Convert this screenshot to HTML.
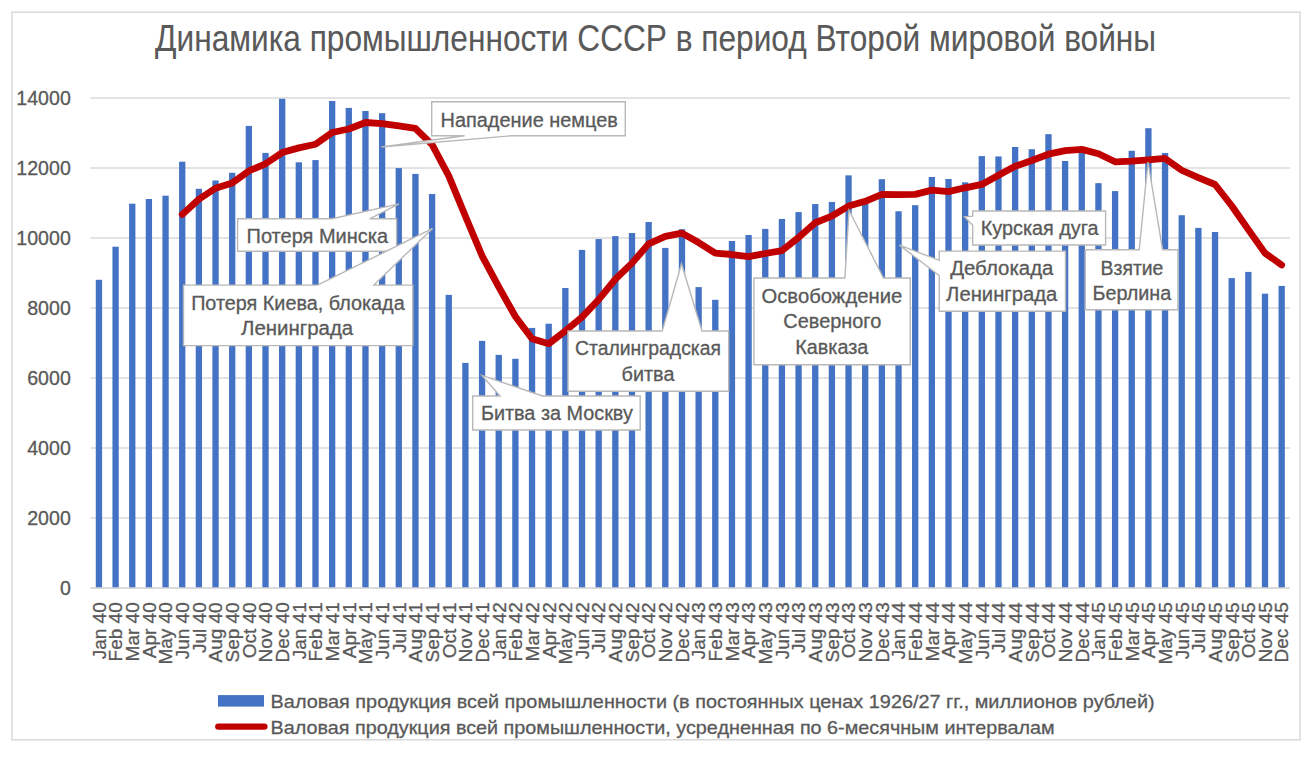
<!DOCTYPE html><html><head><meta charset="utf-8"><style>html,body{margin:0;padding:0;background:#fff;width:1312px;height:761px;overflow:hidden}svg{display:block}text{font-family:"Liberation Sans",sans-serif;fill:#595959;stroke:#595959;stroke-width:0.3px}</style></head><body>
<svg width="1312" height="761" viewBox="0 0 1312 761">
<rect x="0" y="0" width="1312" height="761" fill="#fff"/>
<rect x="12" y="12.2" width="1288" height="727.6" fill="#fff" stroke="#d9d9d9" stroke-width="1.5"/>
<text x="655.6" y="50.8" font-size="36" text-anchor="middle" textLength="1001" lengthAdjust="spacingAndGlyphs" style="stroke-width:0.1px">Динамика промышленности СССР в период Второй мировой войны</text>
<line x1="90.6" y1="588.00" x2="1290.0" y2="588.00" stroke="#d9d9d9" stroke-width="1.3"/>
<text x="70.8" y="594.60" font-size="19.6" text-anchor="end">0</text>
<line x1="90.6" y1="518.00" x2="1290.0" y2="518.00" stroke="#d9d9d9" stroke-width="1.3"/>
<text x="70.8" y="524.60" font-size="19.6" text-anchor="end">2000</text>
<line x1="90.6" y1="448.00" x2="1290.0" y2="448.00" stroke="#d9d9d9" stroke-width="1.3"/>
<text x="70.8" y="454.60" font-size="19.6" text-anchor="end">4000</text>
<line x1="90.6" y1="378.00" x2="1290.0" y2="378.00" stroke="#d9d9d9" stroke-width="1.3"/>
<text x="70.8" y="384.60" font-size="19.6" text-anchor="end">6000</text>
<line x1="90.6" y1="308.00" x2="1290.0" y2="308.00" stroke="#d9d9d9" stroke-width="1.3"/>
<text x="70.8" y="314.60" font-size="19.6" text-anchor="end">8000</text>
<line x1="90.6" y1="238.00" x2="1290.0" y2="238.00" stroke="#d9d9d9" stroke-width="1.3"/>
<text x="70.8" y="244.60" font-size="19.6" text-anchor="end">10000</text>
<line x1="90.6" y1="168.00" x2="1290.0" y2="168.00" stroke="#d9d9d9" stroke-width="1.3"/>
<text x="70.8" y="174.60" font-size="19.6" text-anchor="end">12000</text>
<line x1="90.6" y1="98.00" x2="1290.0" y2="98.00" stroke="#d9d9d9" stroke-width="1.3"/>
<text x="70.8" y="104.60" font-size="19.6" text-anchor="end">14000</text>
<rect x="95.78" y="279.79" width="6.30" height="308.21" fill="#4472c4"/>
<rect x="112.44" y="246.71" width="6.30" height="341.29" fill="#4472c4"/>
<rect x="129.10" y="203.70" width="6.30" height="384.30" fill="#4472c4"/>
<rect x="145.75" y="199.01" width="6.30" height="388.99" fill="#4472c4"/>
<rect x="162.41" y="195.68" width="6.30" height="392.32" fill="#4472c4"/>
<rect x="179.07" y="161.70" width="6.30" height="426.30" fill="#4472c4"/>
<rect x="195.73" y="188.79" width="6.30" height="399.21" fill="#4472c4"/>
<rect x="212.39" y="180.49" width="6.30" height="407.51" fill="#4472c4"/>
<rect x="229.05" y="172.79" width="6.30" height="415.21" fill="#4472c4"/>
<rect x="245.70" y="125.89" width="6.30" height="462.11" fill="#4472c4"/>
<rect x="262.36" y="152.91" width="6.30" height="435.09" fill="#4472c4"/>
<rect x="279.02" y="98.80" width="6.30" height="489.20" fill="#4472c4"/>
<rect x="295.68" y="162.29" width="6.30" height="425.71" fill="#4472c4"/>
<rect x="312.34" y="160.09" width="6.30" height="427.91" fill="#4472c4"/>
<rect x="329.00" y="101.01" width="6.30" height="486.99" fill="#4472c4"/>
<rect x="345.65" y="107.90" width="6.30" height="480.10" fill="#4472c4"/>
<rect x="362.31" y="110.98" width="6.30" height="477.02" fill="#4472c4"/>
<rect x="378.97" y="113.19" width="6.30" height="474.81" fill="#4472c4"/>
<rect x="395.63" y="168.10" width="6.30" height="419.90" fill="#4472c4"/>
<rect x="412.29" y="173.91" width="6.30" height="414.09" fill="#4472c4"/>
<rect x="428.95" y="194.00" width="6.30" height="394.00" fill="#4472c4"/>
<rect x="445.60" y="294.88" width="6.30" height="293.12" fill="#4472c4"/>
<rect x="462.26" y="362.91" width="6.30" height="225.09" fill="#4472c4"/>
<rect x="478.92" y="340.90" width="6.30" height="247.10" fill="#4472c4"/>
<rect x="495.58" y="354.90" width="6.30" height="233.10" fill="#4472c4"/>
<rect x="512.24" y="358.78" width="6.30" height="229.22" fill="#4472c4"/>
<rect x="528.90" y="327.91" width="6.30" height="260.09" fill="#4472c4"/>
<rect x="545.55" y="323.71" width="6.30" height="264.29" fill="#4472c4"/>
<rect x="562.21" y="287.98" width="6.30" height="300.02" fill="#4472c4"/>
<rect x="578.87" y="249.90" width="6.30" height="338.10" fill="#4472c4"/>
<rect x="595.53" y="239.08" width="6.30" height="348.92" fill="#4472c4"/>
<rect x="612.19" y="236.11" width="6.30" height="351.89" fill="#4472c4"/>
<rect x="628.85" y="232.99" width="6.30" height="355.01" fill="#4472c4"/>
<rect x="645.50" y="222.00" width="6.30" height="366.00" fill="#4472c4"/>
<rect x="662.16" y="247.90" width="6.30" height="340.10" fill="#4472c4"/>
<rect x="678.82" y="229.21" width="6.30" height="358.79" fill="#4472c4"/>
<rect x="695.48" y="287.10" width="6.30" height="300.90" fill="#4472c4"/>
<rect x="712.14" y="299.81" width="6.30" height="288.19" fill="#4472c4"/>
<rect x="728.80" y="241.01" width="6.30" height="346.99" fill="#4472c4"/>
<rect x="745.45" y="234.99" width="6.30" height="353.01" fill="#4472c4"/>
<rect x="762.11" y="228.90" width="6.30" height="359.10" fill="#4472c4"/>
<rect x="778.77" y="218.99" width="6.30" height="369.01" fill="#4472c4"/>
<rect x="795.43" y="212.10" width="6.30" height="375.90" fill="#4472c4"/>
<rect x="812.09" y="204.08" width="6.30" height="383.92" fill="#4472c4"/>
<rect x="828.75" y="201.91" width="6.30" height="386.09" fill="#4472c4"/>
<rect x="845.40" y="175.35" width="6.30" height="412.65" fill="#4472c4"/>
<rect x="862.06" y="201.25" width="6.30" height="386.75" fill="#4472c4"/>
<rect x="878.72" y="179.20" width="6.30" height="408.80" fill="#4472c4"/>
<rect x="895.38" y="211.29" width="6.30" height="376.71" fill="#4472c4"/>
<rect x="912.04" y="205.20" width="6.30" height="382.80" fill="#4472c4"/>
<rect x="928.70" y="176.99" width="6.30" height="411.01" fill="#4472c4"/>
<rect x="945.35" y="178.99" width="6.30" height="409.01" fill="#4472c4"/>
<rect x="962.01" y="182.31" width="6.30" height="405.69" fill="#4472c4"/>
<rect x="978.67" y="156.10" width="6.30" height="431.90" fill="#4472c4"/>
<rect x="995.33" y="156.45" width="6.30" height="431.55" fill="#4472c4"/>
<rect x="1011.99" y="147.00" width="6.30" height="441.00" fill="#4472c4"/>
<rect x="1028.65" y="149.20" width="6.30" height="438.80" fill="#4472c4"/>
<rect x="1045.30" y="134.15" width="6.30" height="453.85" fill="#4472c4"/>
<rect x="1061.96" y="161.00" width="6.30" height="427.00" fill="#4472c4"/>
<rect x="1078.62" y="152.25" width="6.30" height="435.75" fill="#4472c4"/>
<rect x="1095.28" y="183.15" width="6.30" height="404.85" fill="#4472c4"/>
<rect x="1111.94" y="191.10" width="6.30" height="396.90" fill="#4472c4"/>
<rect x="1128.60" y="150.81" width="6.30" height="437.19" fill="#4472c4"/>
<rect x="1145.25" y="128.20" width="6.30" height="459.80" fill="#4472c4"/>
<rect x="1161.91" y="152.95" width="6.30" height="435.05" fill="#4472c4"/>
<rect x="1178.57" y="215.21" width="6.30" height="372.79" fill="#4472c4"/>
<rect x="1195.23" y="227.88" width="6.30" height="360.12" fill="#4472c4"/>
<rect x="1211.89" y="232.01" width="6.30" height="355.99" fill="#4472c4"/>
<rect x="1228.55" y="278.11" width="6.30" height="309.89" fill="#4472c4"/>
<rect x="1245.20" y="271.91" width="6.30" height="316.09" fill="#4472c4"/>
<rect x="1261.86" y="293.68" width="6.30" height="294.32" fill="#4472c4"/>
<rect x="1278.52" y="285.91" width="6.30" height="302.09" fill="#4472c4"/>
<line x1="90.6" y1="588" x2="1290.0" y2="588" stroke="#d9d9d9" stroke-width="1.3"/>
<text transform="translate(105.73,602.3) rotate(-90)" font-size="19" text-anchor="end">Jan 40</text>
<text transform="translate(122.39,602.3) rotate(-90)" font-size="19" text-anchor="end">Feb 40</text>
<text transform="translate(139.05,602.3) rotate(-90)" font-size="19" text-anchor="end">Mar 40</text>
<text transform="translate(155.70,602.3) rotate(-90)" font-size="19" text-anchor="end">Apr 40</text>
<text transform="translate(172.36,602.3) rotate(-90)" font-size="19" text-anchor="end">May 40</text>
<text transform="translate(189.02,602.3) rotate(-90)" font-size="19" text-anchor="end">Jun 40</text>
<text transform="translate(205.68,602.3) rotate(-90)" font-size="19" text-anchor="end">Jul 40</text>
<text transform="translate(222.34,602.3) rotate(-90)" font-size="19" text-anchor="end">Aug 40</text>
<text transform="translate(239.00,602.3) rotate(-90)" font-size="19" text-anchor="end">Sep 40</text>
<text transform="translate(255.65,602.3) rotate(-90)" font-size="19" text-anchor="end">Oct 40</text>
<text transform="translate(272.31,602.3) rotate(-90)" font-size="19" text-anchor="end">Nov 40</text>
<text transform="translate(288.97,602.3) rotate(-90)" font-size="19" text-anchor="end">Dec 40</text>
<text transform="translate(305.63,602.3) rotate(-90)" font-size="19" text-anchor="end">Jan 41</text>
<text transform="translate(322.29,602.3) rotate(-90)" font-size="19" text-anchor="end">Feb 41</text>
<text transform="translate(338.95,602.3) rotate(-90)" font-size="19" text-anchor="end">Mar 41</text>
<text transform="translate(355.60,602.3) rotate(-90)" font-size="19" text-anchor="end">Apr 41</text>
<text transform="translate(372.26,602.3) rotate(-90)" font-size="19" text-anchor="end">May 41</text>
<text transform="translate(388.92,602.3) rotate(-90)" font-size="19" text-anchor="end">Jun 41</text>
<text transform="translate(405.58,602.3) rotate(-90)" font-size="19" text-anchor="end">Jul 41</text>
<text transform="translate(422.24,602.3) rotate(-90)" font-size="19" text-anchor="end">Aug 41</text>
<text transform="translate(438.90,602.3) rotate(-90)" font-size="19" text-anchor="end">Sep 41</text>
<text transform="translate(455.55,602.3) rotate(-90)" font-size="19" text-anchor="end">Oct 41</text>
<text transform="translate(472.21,602.3) rotate(-90)" font-size="19" text-anchor="end">Nov 41</text>
<text transform="translate(488.87,602.3) rotate(-90)" font-size="19" text-anchor="end">Dec 41</text>
<text transform="translate(505.53,602.3) rotate(-90)" font-size="19" text-anchor="end">Jan 42</text>
<text transform="translate(522.19,602.3) rotate(-90)" font-size="19" text-anchor="end">Feb 42</text>
<text transform="translate(538.85,602.3) rotate(-90)" font-size="19" text-anchor="end">Mar 42</text>
<text transform="translate(555.50,602.3) rotate(-90)" font-size="19" text-anchor="end">Apr 42</text>
<text transform="translate(572.16,602.3) rotate(-90)" font-size="19" text-anchor="end">May 42</text>
<text transform="translate(588.82,602.3) rotate(-90)" font-size="19" text-anchor="end">Jun 42</text>
<text transform="translate(605.48,602.3) rotate(-90)" font-size="19" text-anchor="end">Jul 42</text>
<text transform="translate(622.14,602.3) rotate(-90)" font-size="19" text-anchor="end">Aug 42</text>
<text transform="translate(638.80,602.3) rotate(-90)" font-size="19" text-anchor="end">Sep 42</text>
<text transform="translate(655.45,602.3) rotate(-90)" font-size="19" text-anchor="end">Oct 42</text>
<text transform="translate(672.11,602.3) rotate(-90)" font-size="19" text-anchor="end">Nov 42</text>
<text transform="translate(688.77,602.3) rotate(-90)" font-size="19" text-anchor="end">Dec 42</text>
<text transform="translate(705.43,602.3) rotate(-90)" font-size="19" text-anchor="end">Jan 43</text>
<text transform="translate(722.09,602.3) rotate(-90)" font-size="19" text-anchor="end">Feb 43</text>
<text transform="translate(738.75,602.3) rotate(-90)" font-size="19" text-anchor="end">Mar 43</text>
<text transform="translate(755.40,602.3) rotate(-90)" font-size="19" text-anchor="end">Apr 43</text>
<text transform="translate(772.06,602.3) rotate(-90)" font-size="19" text-anchor="end">May 43</text>
<text transform="translate(788.72,602.3) rotate(-90)" font-size="19" text-anchor="end">Jun 43</text>
<text transform="translate(805.38,602.3) rotate(-90)" font-size="19" text-anchor="end">Jul 43</text>
<text transform="translate(822.04,602.3) rotate(-90)" font-size="19" text-anchor="end">Aug 43</text>
<text transform="translate(838.70,602.3) rotate(-90)" font-size="19" text-anchor="end">Sep 43</text>
<text transform="translate(855.35,602.3) rotate(-90)" font-size="19" text-anchor="end">Oct 43</text>
<text transform="translate(872.01,602.3) rotate(-90)" font-size="19" text-anchor="end">Nov 43</text>
<text transform="translate(888.67,602.3) rotate(-90)" font-size="19" text-anchor="end">Dec 43</text>
<text transform="translate(905.33,602.3) rotate(-90)" font-size="19" text-anchor="end">Jan 44</text>
<text transform="translate(921.99,602.3) rotate(-90)" font-size="19" text-anchor="end">Feb 44</text>
<text transform="translate(938.65,602.3) rotate(-90)" font-size="19" text-anchor="end">Mar 44</text>
<text transform="translate(955.30,602.3) rotate(-90)" font-size="19" text-anchor="end">Apr 44</text>
<text transform="translate(971.96,602.3) rotate(-90)" font-size="19" text-anchor="end">May 44</text>
<text transform="translate(988.62,602.3) rotate(-90)" font-size="19" text-anchor="end">Jun 44</text>
<text transform="translate(1005.28,602.3) rotate(-90)" font-size="19" text-anchor="end">Jul 44</text>
<text transform="translate(1021.94,602.3) rotate(-90)" font-size="19" text-anchor="end">Aug 44</text>
<text transform="translate(1038.60,602.3) rotate(-90)" font-size="19" text-anchor="end">Sep 44</text>
<text transform="translate(1055.25,602.3) rotate(-90)" font-size="19" text-anchor="end">Oct 44</text>
<text transform="translate(1071.91,602.3) rotate(-90)" font-size="19" text-anchor="end">Nov 44</text>
<text transform="translate(1088.57,602.3) rotate(-90)" font-size="19" text-anchor="end">Dec 44</text>
<text transform="translate(1105.23,602.3) rotate(-90)" font-size="19" text-anchor="end">Jan 45</text>
<text transform="translate(1121.89,602.3) rotate(-90)" font-size="19" text-anchor="end">Feb 45</text>
<text transform="translate(1138.55,602.3) rotate(-90)" font-size="19" text-anchor="end">Mar 45</text>
<text transform="translate(1155.20,602.3) rotate(-90)" font-size="19" text-anchor="end">Apr 45</text>
<text transform="translate(1171.86,602.3) rotate(-90)" font-size="19" text-anchor="end">May 45</text>
<text transform="translate(1188.52,602.3) rotate(-90)" font-size="19" text-anchor="end">Jun 45</text>
<text transform="translate(1205.18,602.3) rotate(-90)" font-size="19" text-anchor="end">Jul 45</text>
<text transform="translate(1221.84,602.3) rotate(-90)" font-size="19" text-anchor="end">Aug 45</text>
<text transform="translate(1238.50,602.3) rotate(-90)" font-size="19" text-anchor="end">Sep 45</text>
<text transform="translate(1255.15,602.3) rotate(-90)" font-size="19" text-anchor="end">Oct 45</text>
<text transform="translate(1271.81,602.3) rotate(-90)" font-size="19" text-anchor="end">Nov 45</text>
<text transform="translate(1288.47,602.3) rotate(-90)" font-size="19" text-anchor="end">Dec 45</text>
<polyline points="182.22,214.43 198.88,199.27 215.54,188.23 232.20,183.08 248.85,170.89 265.51,163.76 282.17,152.58 298.83,147.87 315.49,144.27 332.15,132.50 348.80,129.00 365.46,122.51 382.12,123.71 398.78,125.78 415.44,128.48 432.10,144.68 448.75,175.85 465.41,216.33 482.07,255.79 498.73,286.92 515.39,316.53 532.05,338.75 548.70,343.75 565.36,330.97 582.02,317.20 598.68,299.70 615.34,279.25 632.00,263.13 648.65,243.88 665.31,236.40 681.97,233.15 698.63,242.56 715.29,253.17 731.95,254.51 748.60,256.67 765.26,253.50 781.92,250.60 798.58,237.50 815.24,222.75 831.90,216.03 848.55,206.09 865.21,201.28 881.87,194.35 898.53,194.62 915.19,194.40 931.85,190.15 948.50,191.56 965.16,187.80 981.82,184.45 998.48,175.21 1015.14,166.31 1031.80,160.48 1048.45,154.20 1065.11,150.65 1081.77,149.41 1098.43,153.76 1115.09,161.81 1131.75,161.18 1148.40,159.79 1165.06,158.45 1181.72,170.24 1198.38,177.69 1215.04,184.51 1231.70,205.73 1248.35,229.68 1265.01,253.14 1281.67,264.92" fill="none" stroke="#c00000" stroke-width="6.8" stroke-linejoin="round" stroke-linecap="round"/>
<polygon points="431.7,101.8 625.3,101.8 625.3,135.7 511.5,135.7 381.3,147.0 464.6,135.7 431.7,135.7" fill="#fff" stroke="#b8b8b8" stroke-width="1.4" stroke-linejoin="miter"/>
<text x="529.2" y="127.0" font-size="19.4" text-anchor="middle" textLength="177.3" lengthAdjust="spacingAndGlyphs">Нападение немцев</text>
<polygon points="237.6,218.8 332.0,218.8 399.0,203.9 369.6,218.8 396.6,218.8 396.6,251.3 237.6,251.3" fill="#fff" stroke="#b8b8b8" stroke-width="1.4" stroke-linejoin="miter"/>
<text x="317.3" y="242.5" font-size="19.4" text-anchor="middle" textLength="141.4" lengthAdjust="spacingAndGlyphs">Потеря Минска</text>
<polygon points="183.5,285.1 317.5,285.1 432.6,228.4 373.8,285.1 412.8,285.1 412.8,345.6 183.5,345.6" fill="#fff" stroke="#b8b8b8" stroke-width="1.4" stroke-linejoin="miter"/>
<text x="297.9" y="309.6" font-size="19.4" text-anchor="middle" textLength="213.5" lengthAdjust="spacingAndGlyphs">Потеря Киева, блокада</text>
<text x="297.1" y="335.2" font-size="19.4" text-anchor="middle" textLength="112.2" lengthAdjust="spacingAndGlyphs">Ленинграда</text>
<polygon points="472.7,396.0 500.0,396.0 482.0,375.4 542.4,396.0 640.2,396.0 640.2,430.0 472.7,430.0" fill="#fff" stroke="#b8b8b8" stroke-width="1.4" stroke-linejoin="miter"/>
<text x="556.9" y="420.0" font-size="19.4" text-anchor="middle" textLength="152.0" lengthAdjust="spacingAndGlyphs">Битва за Москву</text>
<polygon points="568.0,331.0 662.2,331.0 681.5,263.7 702.0,331.0 728.7,331.0 728.7,391.2 568.0,391.2" fill="#fff" stroke="#b8b8b8" stroke-width="1.4" stroke-linejoin="miter"/>
<text x="648.0" y="355.4" font-size="19.4" text-anchor="middle" textLength="146.0" lengthAdjust="spacingAndGlyphs">Сталинградская</text>
<text x="648.0" y="381.0" font-size="19.4" text-anchor="middle" textLength="52.8" lengthAdjust="spacingAndGlyphs">битва</text>
<polygon points="753.9,278.0 844.9,278.0 849.0,210.3 883.5,278.0 910.3,278.0 910.3,364.7 753.9,364.7" fill="#fff" stroke="#b8b8b8" stroke-width="1.4" stroke-linejoin="miter"/>
<text x="831.9" y="302.7" font-size="19.4" text-anchor="middle" textLength="140.9" lengthAdjust="spacingAndGlyphs">Освобождение</text>
<text x="832.3" y="327.6" font-size="19.4" text-anchor="middle" textLength="98.0" lengthAdjust="spacingAndGlyphs">Северного</text>
<text x="831.8" y="353.7" font-size="19.4" text-anchor="middle" textLength="73.1" lengthAdjust="spacingAndGlyphs">Кавказа</text>
<polygon points="939.2,251.1 1065.5,251.1 1065.5,311.2 939.2,311.2 939.2,275.5 899.4,245.1 939.2,260.3" fill="#fff" stroke="#b8b8b8" stroke-width="1.4" stroke-linejoin="miter"/>
<text x="1001.8" y="275.3" font-size="19.4" text-anchor="middle" textLength="103.3" lengthAdjust="spacingAndGlyphs">Деблокада</text>
<text x="1001.7" y="300.9" font-size="19.4" text-anchor="middle" textLength="111.2" lengthAdjust="spacingAndGlyphs">Ленинграда</text>
<polygon points="972.7,211.0 1105.6,211.0 1105.6,245.0 972.7,245.0 972.7,225.3 964.5,216.8 972.7,216.1" fill="#fff" stroke="#b8b8b8" stroke-width="1.4" stroke-linejoin="miter"/>
<text x="1039.7" y="235.0" font-size="19.4" text-anchor="middle" textLength="117.8" lengthAdjust="spacingAndGlyphs">Курская дуга</text>
<polygon points="1085.2,249.7 1139.2,249.7 1148.0,162.0 1162.6,249.7 1177.9,249.7 1177.9,309.8 1085.2,309.8" fill="#fff" stroke="#b8b8b8" stroke-width="1.4" stroke-linejoin="miter"/>
<text x="1132.0" y="274.7" font-size="19.4" text-anchor="middle" textLength="62.8" lengthAdjust="spacingAndGlyphs">Взятие</text>
<text x="1131.9" y="300.3" font-size="19.4" text-anchor="middle" textLength="78.8" lengthAdjust="spacingAndGlyphs">Берлина</text>
<rect x="218" y="695.1" width="46" height="11.5" fill="#4472c4"/>
<line x1="218.3" y1="726.6" x2="264.4" y2="726.6" stroke="#c00000" stroke-width="6.4" stroke-linecap="round"/>
<text x="270.6" y="707.9" font-size="18.6" textLength="884" lengthAdjust="spacingAndGlyphs">Валовая продукция всей промышленности (в постоянных ценах 1926/27 гг., миллионов рублей)</text>
<text x="270.6" y="733.7" font-size="18.6" textLength="784" lengthAdjust="spacingAndGlyphs">Валовая продукция всей промышленности, усредненная по 6-месячным интервалам</text>
</svg></body></html>
